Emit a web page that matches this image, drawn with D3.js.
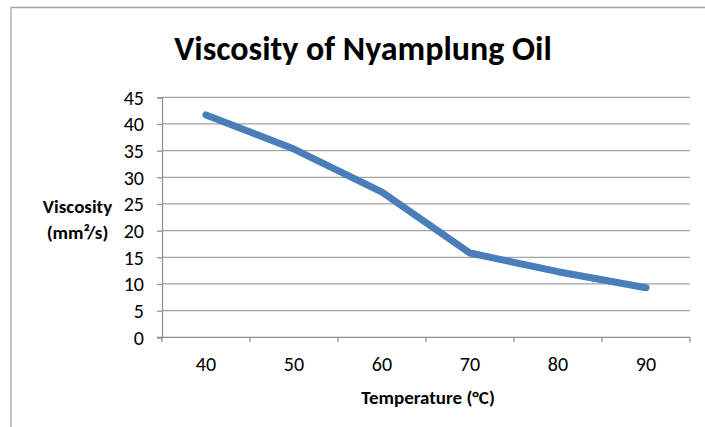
<!DOCTYPE html>
<html>
<head>
<meta charset="utf-8">
<script src="https://cdn.jsdelivr.net/npm/d3@7"></script>
<style>
  body { margin: 0; background: #fff; }
  svg text { font-family: Carlito, Calibri, Lato, sans-serif; fill: #000; }
</style>
</head>
<body>
<script>
const temps = ['40', '50', '60', '70', '80', '90'];
const viscosity = [41.7, 35.3, 27.2, 15.8, 12.3, 9.3];
const yTicks = [0, 5, 10, 15, 20, 25, 30, 35, 40, 45];

const svg = d3.select('body')
  .append('svg')
  .attr('width', 705)
  .attr('height', 427);

const margin = { top: 97.3, left: 162, right: 15, bottom: 89.7 };
const width = 705 - margin.left - margin.right;
const height = 427 - margin.top - margin.bottom;

// chart border (only top and left visible in frame)
svg.append('path')
  .attr('d', 'M11,430 V7.5 H710')
  .attr('fill', 'none')
  .attr('stroke', '#a6a6a6')
  .attr('stroke-width', 1.3);

const g = svg.append('g')
  .attr('transform', 'translate(' + margin.left + ',' + margin.top + ')');

const xBand = d3.scaleBand().domain(temps).range([0, width]);
const y = d3.scaleLinear().domain([0, 45]).range([height, 0]);

// gridlines
g.selectAll('.grid')
  .data(yTicks.filter(d => d > 0))
  .enter()
  .append('line')
  .attr('x1', 0)
  .attr('x2', width)
  .attr('y1', d => y(d))
  .attr('y2', d => y(d))
  .attr('stroke', '#a3a3a3')
  .attr('stroke-width', 1.2);

// Y axis
const yAxis = g.append('g')
  .call(d3.axisLeft(y).tickValues(yTicks).tickSize(5).tickPadding(13));
yAxis.select('.domain').attr('stroke', '#8c8c8c').attr('stroke-width', 1.2);
yAxis.selectAll('.tick line').attr('stroke', '#8c8c8c').attr('stroke-width', 1.2);
yAxis.selectAll('.tick text')
  .style('font-size', '20px')
  .attr('dy', '0.34em')
  .attr('fill', '#000');

// X axis (tick marks between categories)
const xAxis = g.append('g')
  .attr('transform', 'translate(0,' + height + ')');
xAxis.append('line')
  .attr('x1', -5).attr('x2', width)
  .attr('stroke', '#8c8c8c').attr('stroke-width', 1.2);
xAxis.selectAll('.xtick')
  .data(temps.map(d => xBand(d)).concat([width]))
  .enter()
  .append('line')
  .attr('x1', d => d).attr('x2', d => d)
  .attr('y1', 0).attr('y2', 5)
  .attr('stroke', '#8c8c8c').attr('stroke-width', 1.2);
xAxis.selectAll('.xlabel')
  .data(temps)
  .enter()
  .append('text')
  .attr('x', d => xBand(d) + xBand.bandwidth() / 2)
  .attr('y', 34)
  .attr('text-anchor', 'middle')
  .style('font-size', '20px')
  .text(d => d);

// line
const line = d3.line()
  .x((d, i) => xBand(temps[i]) + xBand.bandwidth() / 2)
  .y(d => y(d));

g.append('path')
  .datum(viscosity)
  .attr('d', line)
  .attr('fill', 'none')
  .attr('stroke', '#4a7ebb')
  .attr('stroke-width', 7)
  .attr('stroke-linecap', 'round')
  .attr('stroke-linejoin', 'round');

// titles
svg.append('text')
  .attr('x', 363)
  .attr('y', 60)
  .attr('text-anchor', 'middle')
  .style('font-size', '34px')
  .style('font-weight', 'bold')
  .text('Viscosity of Nyamplung Oil');

svg.append('text')
  .attr('x', 428)
  .attr('y', 404)
  .attr('text-anchor', 'middle')
  .style('font-size', '19px')
  .style('font-weight', 'bold')
  .text('Temperature (°C)');

const yTitle = svg.append('text')
  .attr('text-anchor', 'middle')
  .style('font-size', '19px')
  .style('font-weight', 'bold');
yTitle.append('tspan').attr('x', 77.5).attr('y', 213).text('Viscosity');
yTitle.append('tspan').attr('x', 77.5).attr('y', 239).text('(mm²/s)');
</script>
</body>
</html>
